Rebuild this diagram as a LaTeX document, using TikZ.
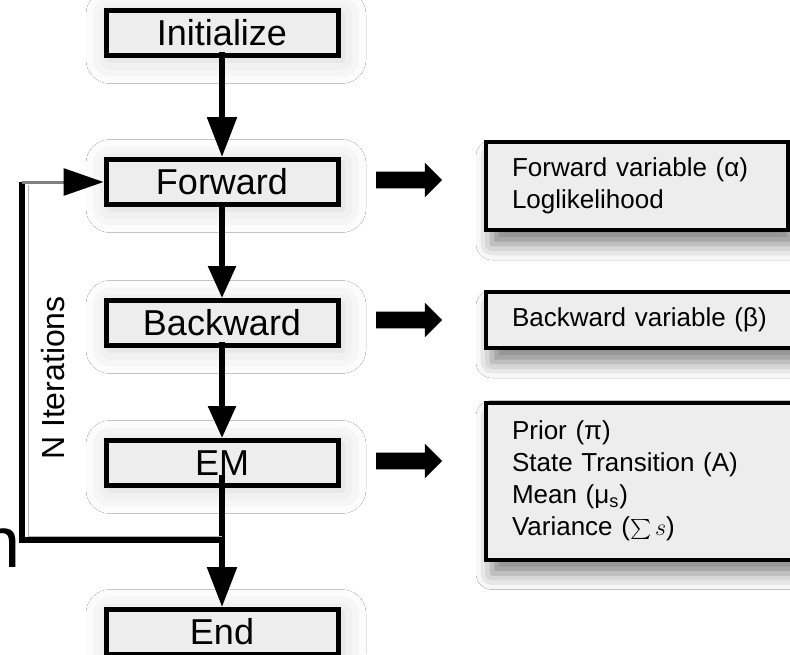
\documentclass[tikz,border=0pt]{standalone}
\usepackage{fontspec}
\setmainfont{Liberation Sans}
\usetikzlibrary{arrows.meta, positioning, calc, shapes.arrows, shadows.blur}

\begin{document}
\begin{tikzpicture}[x=0.5pt, y=-0.5pt,
  stage/.style={draw=black, line width=2.5pt, fill=black!7, minimum width=116pt, minimum height=22.5pt, inner sep=0pt, font=\fontsize{18}{20}\selectfont, blur shadow={shadow xshift=2pt, shadow yshift=-2pt, shadow blur radius=12pt, shadow opacity=18}},
  result/.style={draw=black, line width=2pt, fill=black!7, align=left, anchor=west, inner xsep=13pt, font=\fontsize{13}{16}\selectfont, blur shadow={shadow xshift=3pt, shadow yshift=-7pt, shadow blur radius=8pt, shadow opacity=50}},
  flow/.style={line width=2.8pt, -{Triangle[length=16pt, width=13.5pt]}},
  bigflow/.style={line width=2.8pt, -{Triangle[length=20pt, width=14.5pt]}},
  fat/.style={single arrow, fill=black, draw=none, minimum height=33pt, minimum width=17pt, single arrow head extend=4.5pt, inner sep=4pt}
]
\useasboundingbox (0,0) rectangle (790,654);
\fill[white] (0,0) rectangle (790,654);

% Main stages
\node[stage] (init) at (222,33) {Initialize};
\node[stage] (forward) at (222,182) {Forward};
\node[stage] (backward) at (222,323) {Backward};
\node[stage] (em) at (222,463) {EM};
\node[stage] (end) at (222,632) {End};

% Flow between stages
\draw[bigflow] ($(init.south)+(0,-6)$) -- (forward);
\draw[flow] (forward) -- (backward);
\draw[flow] ($(backward.south)+(0,-6)$) -- (em);
\draw[bigflow] ($(em.south)+(0,-13)$) -- (end);

% Iteration loop
\coordinate (loopstart) at ($(em.south)+(0,52)$);
\coordinate (loopcorner) at (22,540);
\coordinate (looptop) at (22,182);
\draw[line width=2.8pt] (loopstart) -- (loopcorner) -- (looptop);
\draw[gray!60, line width=0.5pt] ($(looptop)+(6,3)$) |- ($(loopstart)+(0,-4)$);
\draw[gray, line width=1.5pt, -{Triangle[color=black, length=20pt, width=13.5pt]}] (looptop) -- (forward);
\node[rotate=90, font=\fontsize{16}{18}\selectfont] (niter) at (53,378) {N Iterations};
\node[anchor=base west, inner sep=0pt, font=\fontsize{36}{40}\selectfont] (cutoff) at (-20,567) {n};

% Outputs of each stage
\foreach \yy/\nm in {180/fwd, 320/bwd, 461/em} {
    \node[fat] (out\nm) at (405,\yy) {};
}
\node[result, text width=125pt, minimum height=44pt] (fwdbox) at (484,186) {Forward variable (α)\\Loglikelihood};
\node[result, text width=155pt, minimum height=28pt] (bwdbox) at (484,320) {Backward variable (β)};
\node[result, text width=155pt, minimum height=78.5pt] (embox) at (484,481) {Prior (π)\\State Transition (A)\\Mean (μ\textsubscript{s})\\Variance ($\sum s$)};
\end{tikzpicture}
\end{document}
